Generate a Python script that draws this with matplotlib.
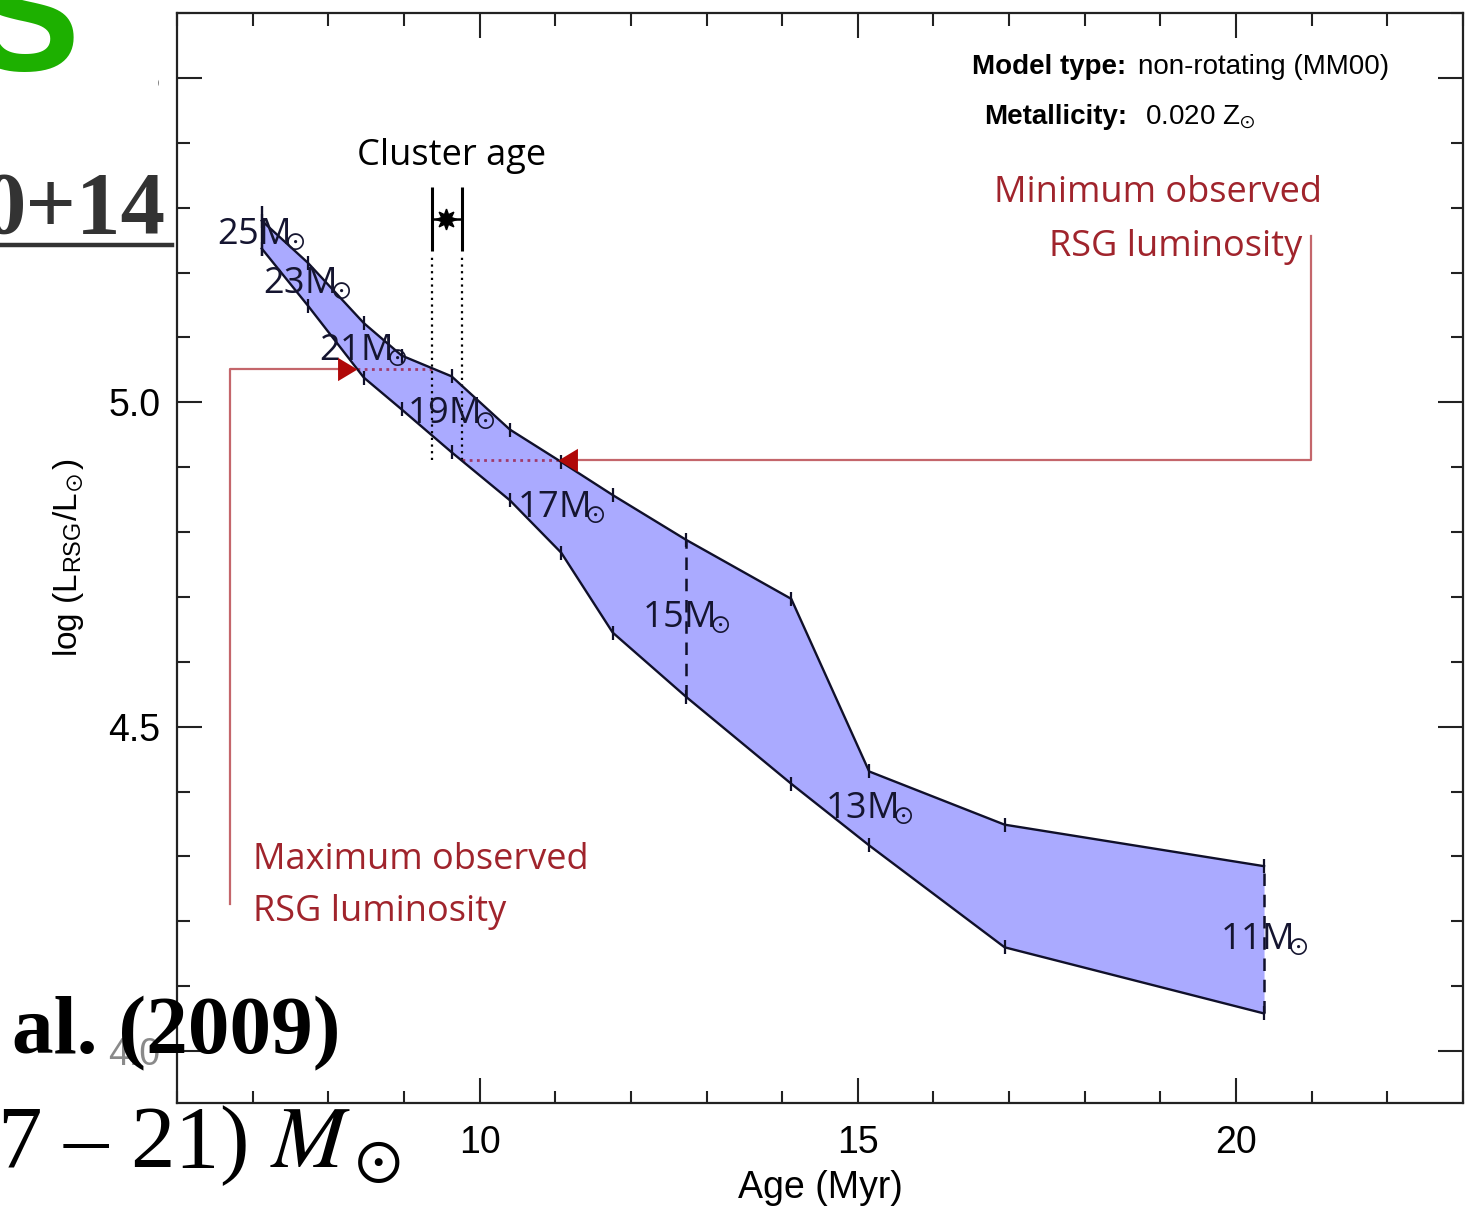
import matplotlib
matplotlib.use("Agg")
import matplotlib.pyplot as plt
from matplotlib.ticker import MultipleLocator
from matplotlib.patches import Rectangle
from matplotlib.lines import Line2D
import numpy as np

W, H = 1466, 1213

plt.rcParams.update({
    "font.family": "Liberation Sans",
    "mathtext.fontset": "stix",
    "xtick.direction": "in",
    "ytick.direction": "in",
    "xtick.top": True,
    "ytick.right": True,
})

# RSG luminosity range vs age for each initial mass (non-rotating, Z=0.020)
mass = [25, 23, 21, 20, 19, 18, 17, 16, 15, 14, 13, 12, 11]
age = [7.12, 7.73, 8.47, 8.97, 9.63, 10.40, 11.08, 11.76, 12.73, 14.12, 15.15, 16.94, 20.37]
logL_hi = [5.280, 5.215, 5.122, 5.072, 5.040, 4.958, 4.908, 4.857, 4.788, 4.697, 4.431, 4.349, 4.285]
logL_lo = [5.237, 5.149, 5.038, 4.989, 4.923, 4.849, 4.768, 4.645, 4.546, 4.412, 4.317, 4.160, 4.058]
labelled = [25, 23, 21, 19, 17, 15, 13, 11]
dashed = [15, 11]

cluster_age = 9.56
cluster_age_lo, cluster_age_hi = 9.37, 9.77
cluster_logL = 5.283
L_min_obs = 4.911
L_max_obs = 5.051

C_FILL = "#aaaaff"
C_EDGE = "#10102a"
C_RED_TXT = "#a0242c"
C_RED_LINE = "#c4666b"
C_TRI = "#b00808"
C_DOT = "#a03a6a"
HUMANIST = "Open Sans"


def fx(x):
    return x / W


def fy(y):
    return 1 - y / H


fig = plt.figure(figsize=(W / 100, H / 100), dpi=100)
ax = fig.add_axes([fx(177), fy(1103), (1463 - 177) / W, (1103 - 13) / H])

age_a = np.array(age)
hi_a = np.array(logL_hi)
lo_a = np.array(logL_lo)

# the band
ax.fill_between(age_a, lo_a, hi_a, color=C_FILL, lw=0, zorder=1)
ax.plot(age_a, hi_a, color=C_EDGE, lw=1.7, zorder=3)
ax.plot(age_a, lo_a, color=C_EDGE, lw=1.7, zorder=3)
ax.plot(age_a, hi_a, ls="none", marker="|", ms=10, mew=1.6, color=C_EDGE, zorder=3)
ax.plot(age_a, lo_a, ls="none", marker="|", ms=10, mew=1.6, color=C_EDGE, zorder=3)
ax.vlines(age_a[0], lo_a[0] - 0.012, hi_a[0] + 0.022, color=C_EDGE, lw=1.7, zorder=3)
for m in dashed:
    i = mass.index(m)
    ax.vlines(age_a[i], lo_a[i], hi_a[i], color=C_EDGE, lw=1.8,
              linestyles=(0, (5, 3.5)), zorder=3)

for m in labelled:
    i = mass.index(m)
    ax.text(age_a[i], (lo_a[i] + hi_a[i]) / 2, f"{m}M$_{{\\!\\!\\!\\odot}}$", ha="center",
            va="center", fontsize=26, family=HUMANIST, color="#151530", zorder=4)

# cluster age
ax.errorbar(cluster_age, cluster_logL,
            xerr=[[cluster_age - cluster_age_lo], [cluster_age_hi - cluster_age]],
            fmt="none", ecolor="k", elinewidth=1.8, capsize=23, capthick=2.2, zorder=5)
ax.plot(cluster_age, cluster_logL, marker=(8, 1, 0), ms=15, color="k", zorder=6)
ax.vlines([cluster_age_lo, cluster_age_hi], L_min_obs, cluster_logL - 0.057,
          color="k", lw=1.6, linestyles=(0, (1, 2)), zorder=2)
ax.text(cluster_age + 0.07, cluster_logL + 0.097, "Cluster age", ha="center",
        va="center", fontsize=26, family=HUMANIST)

# where the observed limits cross the band
age_at_min = np.interp(L_min_obs, hi_a[::-1], age_a[::-1])
age_at_max = np.interp(L_max_obs, lo_a[::-1], age_a[::-1])

tri_left = [(0, 0), (1, 0.6), (1, -0.6), (0, 0)]
tri_right = [(0, 0), (-1, 0.6), (-1, -0.6), (0, 0)]

# minimum observed RSG luminosity
ax.hlines(L_min_obs, cluster_age_hi, age_at_min, color=C_DOT, lw=2.0,
          linestyles=(0, (1, 1.6)), zorder=2)
ax.plot([age_at_min + 0.2, 20.99, 20.99], [L_min_obs, L_min_obs, 5.257],
        color=C_RED_LINE, lw=1.6, zorder=2)
ax.plot(age_at_min, L_min_obs, marker=tri_left, ms=28, color=C_TRI, mew=0, zorder=5)
ax.text(18.97, 5.322, "Minimum observed", ha="center", va="center",
        fontsize=26, family=HUMANIST, color=C_RED_TXT)
ax.text(19.2, 5.240, "RSG luminosity", ha="center", va="center",
        fontsize=26, family=HUMANIST, color=C_RED_TXT)

# maximum observed RSG luminosity
ax.hlines(L_max_obs, age_at_max, cluster_age_lo, color=C_DOT, lw=2.0,
          linestyles=(0, (1, 1.6)), zorder=2)
ax.plot([6.70, 6.70, age_at_max - 0.2], [4.226, L_max_obs, L_max_obs],
        color=C_RED_LINE, lw=1.6, zorder=2)
ax.plot(age_at_max, L_max_obs, marker=tri_right, ms=28, color=C_TRI, mew=0, zorder=5)
ax.text(7.0, 4.294, "Maximum observed", ha="left", va="center",
        fontsize=26, family=HUMANIST, color=C_RED_TXT)
ax.text(7.0, 4.214, "RSG luminosity", ha="left", va="center",
        fontsize=26, family=HUMANIST, color=C_RED_TXT)

# model info
ax.text(16.51, 5.517, "Model type:", ha="left", va="center", fontsize=20, fontweight="bold")
ax.text(18.70, 5.517, "non-rotating (MM00)", ha="left", va="center", fontsize=20)
ax.text(16.67, 5.439, "Metallicity:", ha="left", va="center", fontsize=20, fontweight="bold")
ax.text(18.79, 5.439, "0.020 Z$_{\\!\\odot}$", ha="left", va="center", fontsize=20)

ax.set_xlim(6, 23)
ax.set_ylim(3.92, 5.6)
ax.set_xticks([10, 15, 20])
ax.xaxis.set_minor_locator(MultipleLocator(1))
ax.set_yticks([4.0, 4.5, 5.0, 5.5], ["4.0", "4.5", "5.0", "5.5"])
ax.yaxis.set_minor_locator(MultipleLocator(0.1))
ax.tick_params(which="major", length=18, width=1.5, labelsize=27, color="#222")
ax.tick_params(which="minor", length=9, width=1.5, color="#222")
ax.tick_params(axis="x", which="major", pad=16)
ax.tick_params(axis="y", which="major", pad=12)
ax.get_yticklabels()[0].set_color("#8a8a8a")
for s in ax.spines.values():
    s.set_linewidth(1.6)
    s.set_color("#222")
ax.set_xlabel("Age (Myr)", fontsize=27, labelpad=6)
ax.set_ylabel("log (L$_\\mathregular{RSG}$/L$_{\\!\\odot}$)", fontsize=24, labelpad=16)

# slide text lying over the figure
fig.patches.append(Rectangle((0, fy(100)), fx(158), fy(52) - fy(100),
                             transform=fig.transFigure, fc="white", ec="none", zorder=1))
fig.text(fx(24), fy(70), "S", ha="center", va="baseline", fontsize=120,
         fontweight="bold", color="#1db000", zorder=3)
fig.text(fx(166), fy(233), "0+14", ha="right", va="baseline", fontsize=64,
         fontweight="bold", family="Liberation Serif", color="#333333", zorder=3)
fig.add_artist(Line2D([0, fx(172)], [fy(245), fy(245)], transform=fig.transFigure,
                      color="#333333", lw=3.2, zorder=3))
fig.text(fx(12), fy(1053), "al. (2009)", ha="left", va="baseline", fontsize=60,
         fontweight="bold", family="Liberation Serif", color="black", zorder=3)
fig.text(fx(-3), fy(1167), "7 – 21) $M_\\odot$", ha="left", va="baseline", fontsize=64,
         family="Liberation Serif", color="black", zorder=3)

fig.savefig("out.png", dpi=100)
